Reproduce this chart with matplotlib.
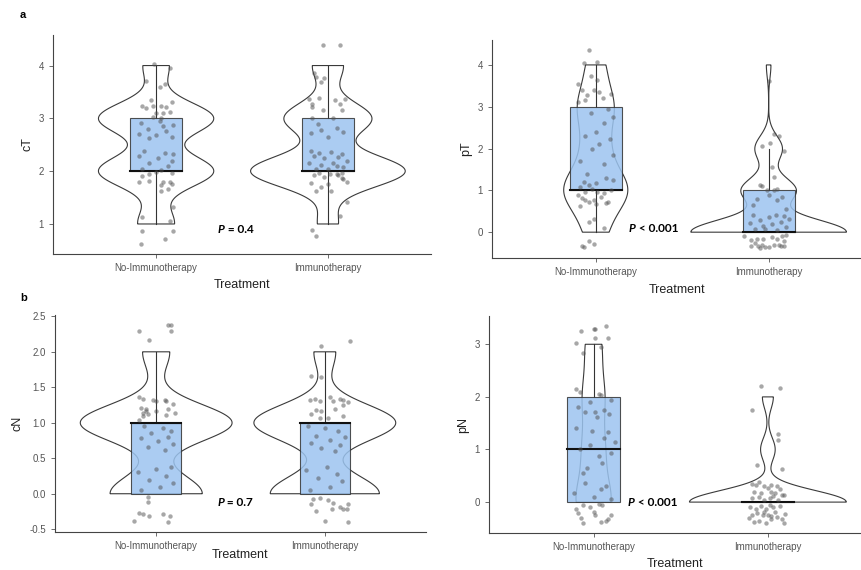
import numpy as np
import matplotlib
matplotlib.use("Agg")
import matplotlib.pyplot as plt
from matplotlib.patches import Rectangle
from matplotlib.ticker import MultipleLocator, FormatStrFormatter

plt.rcParams['font.family'] = ['Liberation Sans', 'DejaVu Sans']

groups = ['No-Immunotherapy', 'Immunotherapy']

# jittered points: (dx from category centre, y)
# the underlying value is round(y)
cT_no_y = [4.03, 3.96, 3.70, 3.66, 3.60,
           3.34, 3.23, 3.20, 3.24, 3.23, 3.22, 3.31, 3.11, 3.10, 3.12, 3.03, 3.01, 2.92, 2.95, 2.88, 2.80, 2.76, 2.70, 2.68, 2.65, 2.62, 2.85,
           2.38, 2.35, 2.28, 2.25, 2.20, 2.15, 2.10, 2.05, 2.03, 2.32, 1.90, 1.95, 1.99, 1.96, 1.79, 1.82, 1.79, 1.79, 1.75, 1.73, 1.66, 1.62,
           1.14, 1.32, 1.06, 0.87, 0.87, 0.72, 0.62]
cT_no_dx = [-0.01, 0.08, -0.06, 0.05, 0.02,
            -0.03, -0.08, -0.06, -0.02, 0.03, 0.06, 0.09, 0.00, 0.04, 0.08, -0.02, 0.03, -0.09, 0.02, 0.10, -0.05, 0.06, -0.10, 0.00, 0.09, -0.04, 0.04,
            -0.07, 0.05, -0.10, 0.01, 0.09, -0.04, 0.07, -0.08, 0.03, 0.10, -0.08, -0.04, 0.00, 0.09, -0.10, -0.04, 0.04, 0.08, 0.09, 0.03, 0.07, 0.03,
            -0.08, 0.10, 0.08, -0.08, 0.10, 0.05, -0.09]

cT_imm_y = [4.39, 4.39, 3.86, 3.78, 3.77, 3.69,
            3.37, 3.39, 3.35, 3.37, 3.28, 3.22, 3.28, 3.15, 3.15, 3.01, 3.01, 2.90, 2.82, 2.72, 2.74, 2.65, 2.78,
            2.38, 2.35, 2.36, 2.32, 2.28, 2.25, 2.26, 2.20, 2.15, 2.12, 2.15, 2.08, 2.05, 2.04, 2.10,
            1.96, 1.92, 1.94, 1.95, 1.96, 1.93, 1.85, 1.87, 1.63, 1.70, 1.62, 1.78, 1.80, 1.75, 1.88,
            1.41, 1.16, 0.89, 0.78]
cT_imm_dx = [-0.03, 0.07, -0.08, -0.07, -0.02, -0.04,
             -0.11, -0.05, 0.04, 0.10, -0.09, -0.09, 0.07, -0.03, 0.08, -0.09, 0.03, -0.06, 0.05, -0.10, 0.09, 0.00, -0.04,
             -0.10, -0.05, 0.02, 0.08, -0.08, -0.02, 0.06, 0.11, -0.11, -0.04, 0.03, 0.09, -0.07, 0.00, 0.05,
             -0.05, -0.08, 0.01, 0.05, 0.08, 0.06, 0.09, 0.08, -0.07, -0.04, 0.02, -0.10, 0.11, 0.00, -0.02,
             0.11, 0.07, -0.09, -0.07]

pT_no_y = [4.36, 4.06, 4.04, 3.74, 3.64, 3.55,
           3.39, 3.28, 3.16, 3.39, 3.36, 3.20, 3.12, 3.30, 2.95, 2.85, 2.75, 2.62,
           2.30, 2.22, 2.12, 1.98, 1.85, 1.70, 1.62, 2.40,
           1.38, 1.30, 1.21, 1.13, 1.17, 1.24, 1.08, 1.03, 0.97, 0.95, 0.93, 1.00, 0.81, 0.77, 0.73, 0.77, 0.67, 0.69, 0.73, 0.85, 0.62, 0.88,
           0.25, 0.32, -0.20, -0.29, -0.34, -0.36, 0.10]
pT_no_dx = [-0.04, 0.01, -0.07, -0.03, 0.01, -0.10,
            -0.08, -0.05, -0.06, -0.01, 0.02, 0.04, -0.10, 0.09, 0.07, -0.03, 0.10, 0.05,
            -0.06, 0.08, 0.02, -0.02, 0.10, -0.09, 0.05, 0.00,
            -0.05, 0.06, -0.07, -0.04, 0.00, 0.10, -0.09, -0.02, -0.06, 0.01, 0.05, 0.09, -0.08, -0.06, -0.04, -0.01, 0.00, 0.06, 0.07, 0.03, -0.09, -0.10,
            -0.04, -0.01, -0.04, -0.01, -0.08, -0.07, 0.05]

pT_imm_y = [3.62,
            2.34, 2.29, 2.13, 2.06, 1.94, 1.55,
            1.13, 1.11, 1.33, 1.03, 1.01, 1.01, 0.79, 0.77, 0.55, 0.85, 0.65, 0.90,
            -0.10, -0.18, -0.17, -0.26, -0.34, -0.30, -0.17, -0.36, -0.12, -0.17, -0.10, -0.20, -0.30, -0.34, -0.34, -0.33, -0.36, -0.38, -0.30, -0.06,
            0.05, 0.08, 0.12, 0.15, 0.20, 0.22, 0.25, 0.30, 0.32, 0.36, 0.40, 0.42, 0.08, 0.38]
pT_imm_dx = [0.00,
             0.03, 0.06, 0.01, -0.04, 0.09, 0.02,
             -0.05, -0.04, 0.03, 0.05, 0.03, -0.01, -0.07, 0.05, 0.10, 0.08, -0.09, 0.00,
             -0.14, -0.10, -0.07, -0.08, -0.06, -0.04, -0.03, -0.02, 0.02, 0.05, 0.08, 0.09, 0.06, 0.09, 0.07, -0.10, 0.00, -0.05, 0.03, 0.10,
             0.05, -0.08, 0.10, -0.03, 0.02, -0.11, 0.07, -0.05, 0.12, 0.00, -0.09, 0.04, -0.02, 0.09]

cN_no_y = [2.30, 2.38, 2.38, 2.29, 2.16,
           1.37, 1.34, 1.32, 1.30, 1.32, 1.31, 1.27, 1.21, 1.19, 1.14, 1.16, 1.13, 1.16, 1.20, 1.14, 1.11, 1.04, 1.09,
           0.95, 0.92, 0.88, 0.85, 0.80, 0.78, 0.74, 0.70, 0.66, 0.62,
           -0.05, -0.12, -0.27, -0.28, -0.31, -0.39, -0.28, -0.32, -0.40,
           0.05, 0.10, 0.15, 0.20, 0.25, 0.30, 0.35, 0.38]
cN_no_dx = [-0.10, 0.07, 0.09, 0.09, -0.04,
            -0.10, -0.08, -0.02, 0.00, 0.05, 0.06, 0.10, -0.09, -0.06, -0.08, -0.06, -0.05, 0.00, 0.07, 0.11, 0.06, -0.10, -0.08,
            -0.07, 0.04, 0.09, -0.03, 0.07, -0.09, 0.01, 0.10, -0.05, 0.05,
            -0.05, -0.05, -0.10, -0.08, -0.04, -0.13, 0.04, 0.08, 0.07,
            -0.09, 0.02, 0.10, -0.04, 0.06, -0.11, 0.00, 0.09]

cN_imm_y = [2.08, 2.15, 1.66, 1.64,
            1.32, 1.34, 1.30, 1.37, 1.30, 1.34, 1.32, 1.29, 1.13, 1.18, 1.16, 1.20, 1.25, 1.07, 1.07, 1.09,
            0.95, 0.92, 0.88, 0.82, 0.80, 0.76, 0.72, 0.68, 0.64, 0.60,
            -0.07, -0.06, -0.09, -0.13, -0.22, -0.18, -0.22, -0.22, -0.15, -0.15, -0.25, -0.39, -0.40,
            0.05, 0.10, 0.18, 0.22, 0.28, 0.33, 0.38]
cN_imm_dx = [-0.02, 0.15, -0.08, -0.02,
             -0.09, -0.06, -0.03, 0.03, 0.05, 0.09, 0.11, 0.14, -0.08, -0.05, -0.02, 0.06, 0.11, -0.03, 0.02, 0.11,
             -0.10, 0.00, 0.08, -0.05, 0.12, 0.03, -0.08, 0.09, -0.02, 0.06,
             -0.07, -0.03, 0.02, 0.05, 0.04, 0.09, 0.11, 0.13, 0.14, -0.08, -0.05, 0.00, 0.14,
             -0.09, 0.03, 0.10, -0.04, 0.07, -0.11, 0.01]

pN_no_y = [3.26, 3.30, 3.30, 3.35, 3.03, 3.11, 3.11, 2.84, 2.94,
           2.15, 2.10, 2.06, 2.04, 1.71, 1.72, 1.68, 1.76, 1.90, 1.95, 1.80, 1.62,
           1.40, 1.36, 1.33, 1.09, 0.88, 0.64, 1.22, 1.00, 0.93, 0.75, 1.15, 0.55,
           -0.13, -0.06, -0.10, -0.04, -0.05, -0.21, -0.18, -0.30, -0.40, -0.38, -0.33, -0.24, -0.24, -0.36,
           0.36, 0.30, 0.10, 0.18, 0.05, 0.24]
pN_no_dx = [-0.07, 0.00, 0.01, 0.07, -0.10, 0.01, 0.08, -0.06, 0.04,
            -0.10, -0.08, 0.03, 0.04, -0.05, 0.01, 0.09, 0.06, -0.02, 0.10, -0.09, 0.02,
            -0.10, -0.01, 0.08, -0.02, 0.03, -0.04, 0.06, -0.08, 0.10, 0.05, 0.12, -0.06,
            -0.10, -0.06, -0.02, 0.03, 0.05, -0.09, 0.00, -0.07, -0.06, 0.04, 0.08, 0.10, 0.01, 0.07,
            -0.05, 0.07, 0.00, -0.11, 0.10, 0.04]

pN_imm_y = [2.20, 2.17, 1.75,
            1.29, 1.18, 0.70, 0.63,
            0.34, 0.33, 0.39, 0.30, 0.26, 0.33, 0.30, 0.25, 0.19, 0.17, 0.20, 0.17, 0.13, 0.08, 0.09, 0.04, 0.08, 0.11, 0.04, 0.14,
            -0.10, -0.13, -0.08, -0.13, -0.10, -0.08, -0.23, -0.24, -0.21, -0.25, -0.24, -0.27, -0.29, -0.38, -0.35, -0.39,
            -0.33, -0.40, -0.33, -0.30, -0.18, -0.18, -0.05]
pN_imm_dx = [-0.04, 0.07, -0.09,
             0.06, 0.06, -0.06, 0.08,
             -0.09, -0.07, -0.05, -0.02, 0.00, 0.02, 0.05, 0.07, -0.08, -0.04, 0.02, 0.04, 0.08, -0.09, -0.05, -0.02, 0.01, 0.03, 0.06, 0.09,
             -0.10, -0.07, -0.04, -0.01, 0.03, 0.07, 0.10, -0.09, -0.06, -0.03, 0.00, 0.02, 0.05, -0.08, -0.05, -0.01,
             0.08, 0.09, 0.02, -0.11, -0.02, 0.04, 0.01]

panel_labels = ['cT', 'pT', 'cN', 'pN']
p_texts = [' = 0.4', ' < 0.001', ' = 0.7', ' < 0.001']
p_pos = [(1.40, 0.89), (1.23, 0.10), (1.405, -0.13), (1.235, 0.0)]


def bw_nrd0(v):
    sd = np.std(v, ddof=1)
    q75, q25 = np.percentile(v, [75, 25])
    lo = min(sd, (q75 - q25) / 1.34)
    if lo == 0:
        lo = sd
    return 0.9 * lo * len(v) ** -0.2


def kde(v):
    grid = np.linspace(v.min(), v.max(), 512)
    bw = bw_nrd0(v)
    z = (grid[:, None] - v[None, :]) / bw
    d = np.exp(-0.5 * z ** 2).sum(axis=1) / (len(v) * bw * np.sqrt(2 * np.pi))
    return grid, d


def panel(ax, data, ylab, ptxt, ppos, xmax, xpad):
    vals = [np.round(np.array(y)) for y, dx in data]
    dens = [kde(v) for v in vals]
    dmax = max(d.max() for g, d in dens)
    for i, (v, (g, d), (y, dx)) in enumerate(zip(vals, dens, data)):
        c = i + 1
        w = 0.45 * d / dmax
        xs = np.concatenate([c - w, (c + w)[::-1]])
        ys = np.concatenate([g, g[::-1]])
        ax.fill(xs, ys, facecolor='white', edgecolor='#3a3a3a', lw=0.8, zorder=1)
        q1, med, q3 = np.percentile(v, [25, 50, 75])
        iqr = q3 - q1
        hi = v[v <= q3 + 1.5 * iqr].max()
        lo = v[v >= q1 - 1.5 * iqr].min()
        ax.plot([c, c], [q3, hi], color='#333333', lw=0.8, zorder=2)
        ax.plot([c, c], [lo, q1], color='#333333', lw=0.8, zorder=2)
        ax.add_patch(Rectangle((c - 0.15, q1), 0.3, q3 - q1, facecolor='#9cc4f0', alpha=0.85,
                               edgecolor='#333333', lw=0.8, zorder=3))
        ax.plot([c - 0.15, c + 0.15], [med, med], color='#111111', lw=1.5, zorder=4)
        ax.scatter(c + np.array(dx), y, s=10, color='#505050', alpha=0.5, lw=0, zorder=5)
    ax.text(ppos[0], ppos[1], 'P', fontweight='bold', fontstyle='italic', family='Lato',
            fontsize=8.5, ha='right', va='center', zorder=6)
    ax.text(ppos[0], ppos[1], ptxt, fontweight='bold', family='Lato',
            fontsize=8.5, ha='left', va='center', zorder=6)
    ax.set_xlim(0.4, xmax)
    ax.set_xticks([1, 2])
    ax.set_xticklabels(groups)
    ax.set_xlabel('Treatment', fontsize=9, color='#222222', labelpad=xpad)
    ax.set_ylabel(ylab, fontsize=9, color='#222222', labelpad=4)
    for s in ['top', 'right']:
        ax.spines[s].set_visible(False)
    for s in ['left', 'bottom']:
        ax.spines[s].set_color('#444444')
        ax.spines[s].set_linewidth(0.8)
    ax.tick_params(labelsize=7, colors='#555555', length=3, width=0.6)


fig = plt.figure(figsize=(8.62, 5.70), dpi=100)
axes = [fig.add_axes([0.0615, 0.5544, 0.4385, 0.3842]),
        fig.add_axes([0.5708, 0.5474, 0.4292, 0.3825]),
        fig.add_axes([0.0638, 0.0667, 0.4304, 0.3807]),
        fig.add_axes([0.5673, 0.0649, 0.4327, 0.3807])]
datasets = [[(cT_no_y, cT_no_dx), (cT_imm_y, cT_imm_dx)],
            [(pT_no_y, pT_no_dx), (pT_imm_y, pT_imm_dx)],
            [(cN_no_y, cN_no_dx), (cN_imm_y, cN_imm_dx)],
            [(pN_no_y, pN_no_dx), (pN_imm_y, pN_imm_dx)]]
xmaxes = [2.6, 2.54, 2.6, 2.54]
xpads = [4.5, 5.3, -1.2, 4.3]
for ax, dat, lab, pt, pp, xm, xp in zip(axes, datasets, panel_labels, p_texts, p_pos, xmaxes, xpads):
    panel(ax, dat, lab, pt, pp, xm, xp)

axes[0].yaxis.set_major_locator(MultipleLocator(1))
axes[1].yaxis.set_major_locator(MultipleLocator(1))
axes[2].yaxis.set_major_locator(MultipleLocator(0.5))
axes[2].yaxis.set_major_formatter(FormatStrFormatter('%.1f'))
axes[3].yaxis.set_major_locator(MultipleLocator(1))

fig.text(20 / 862, 1 - 15 / 570, 'a', fontsize=8, fontweight='bold', va='center')
fig.text(20 / 862, 1 - 298 / 570, 'b', fontsize=8, fontweight='bold', va='center')

fig.savefig('out.png', dpi=100)
